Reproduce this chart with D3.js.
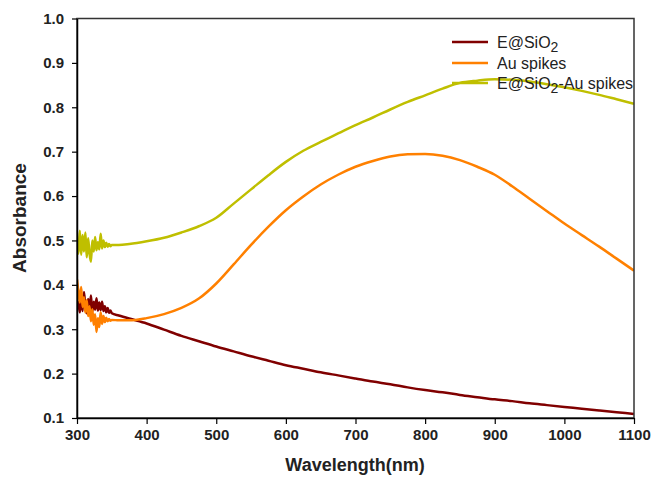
<!DOCTYPE html>
<html>
<head>
<meta charset="utf-8">
<script src="https://cdn.jsdelivr.net/npm/d3@7"></script>
<style>
  body { margin: 0; background: #fff; }
  text { font-family: "Liberation Sans", Arial, sans-serif; }
</style>
</head>
<body>
<script>
const WIDTH = 654;
const HEIGHT = 484;
const MARGIN = { top: 18.5, right: 20, bottom: 66, left: 77 };

// wavelength grid (nm): dense at the noisy start, coarser later
const wavelength = [300, 302, 304, 306, 308, 310, 312, 314, 316, 318, 320, 322, 324, 326, 328,
    330, 332, 334, 336, 338, 340, 342, 344, 346, 348, 350,
    360, 375, 400, 425, 450, 475, 500, 525, 550, 575, 600, 625, 650, 675, 700, 725, 750, 775,
    800, 825, 850, 875, 900, 925, 950, 975, 1000, 1025, 1050, 1075, 1100];

const eSiO2 = [0.345, 0.362, 0.338, 0.372, 0.341, 0.384, 0.350, 0.336, 0.368, 0.345, 0.376, 0.340, 0.362, 0.344, 0.370,
    0.342, 0.360, 0.343, 0.362, 0.341, 0.352, 0.338, 0.348, 0.337, 0.342, 0.336,
    0.331, 0.324, 0.313, 0.299, 0.285, 0.273, 0.261, 0.250, 0.239, 0.229, 0.219, 0.211, 0.203, 0.196, 0.189, 0.182, 0.176, 0.169,
    0.163, 0.158, 0.152, 0.147, 0.142, 0.138, 0.133, 0.129, 0.125, 0.121, 0.117, 0.113, 0.109];

const auSpikes = [0.412, 0.385, 0.360, 0.395, 0.350, 0.372, 0.338, 0.365, 0.330, 0.352, 0.318, 0.345, 0.310, 0.334, 0.294,
    0.325, 0.305, 0.338, 0.312, 0.330, 0.316, 0.326, 0.318, 0.323, 0.319, 0.321,
    0.320, 0.320, 0.325, 0.334, 0.348, 0.369, 0.403, 0.446, 0.490, 0.531, 0.568, 0.599, 0.626, 0.648, 0.666, 0.679, 0.689, 0.694,
    0.695, 0.691, 0.681, 0.666, 0.648, 0.622, 0.594, 0.566, 0.538, 0.512, 0.486, 0.459, 0.432];

const eSiO2Au = [0.500, 0.470, 0.522, 0.468, 0.512, 0.475, 0.518, 0.462, 0.505, 0.470, 0.452, 0.500, 0.475, 0.508, 0.478,
    0.496, 0.480, 0.515, 0.482, 0.500, 0.485, 0.495, 0.486, 0.492, 0.487, 0.490,
    0.490, 0.492, 0.498, 0.506, 0.518, 0.532, 0.551, 0.583, 0.615, 0.647, 0.677, 0.702, 0.722, 0.741, 0.760, 0.777, 0.795, 0.812,
    0.827, 0.842, 0.855, 0.860, 0.863, 0.862, 0.858, 0.852, 0.845, 0.837, 0.828, 0.818, 0.808];

const xTicks = [300, 400, 500, 600, 700, 800, 900, 1000, 1100];
const yTicks = [0.1, 0.2, 0.3, 0.4, 0.5, 0.6, 0.7, 0.8, 0.9, 1.0];

const series = [
    { name: "E@SiO", sub: "2", rest: "", values: eSiO2, color: "#800000" },
    { name: "Au spikes", sub: "", rest: "", values: auSpikes, color: "#ff8000" },
    { name: "E@SiO", sub: "2", rest: "-Au spikes", values: eSiO2Au, color: "#bfbf00" },
];

const svg = d3.select("body")
    .append("svg")
    .attr("width", WIDTH)
    .attr("height", HEIGHT)

const innerW = 634 - MARGIN.left;
const innerH = 418 - MARGIN.top;

const x = d3.scaleLinear().domain([300, 1100]).range([0, innerW]);
const y = d3.scaleLinear().domain([0.1, 1.0]).range([innerH, 0]);

const plot = svg.append("g")
    .attr("transform", `translate(${MARGIN.left} ${MARGIN.top})`);

plot.append("clipPath").attr("id", "clip")
    .append("rect").attr("width", innerW).attr("height", innerH);

const line = d3.line()
    .curve(d3.curveMonotoneX)
    .x((d) => x(d[0]))
    .y((d) => y(d[1]))

plot.append("g")
    .attr("clip-path", "url(#clip)")
    .selectAll("path")
    .data(series)
    .join("path")
    .attr("d", (s) => line(wavelength.map((w, i) => [w, s.values[i]])))
    .attr("fill", "none")
    .attr("stroke", (s) => s.color)
    .attr("stroke-width", 2.5)
    .attr("stroke-linejoin", "round")

// frame
plot.append("rect")
    .attr("width", innerW)
    .attr("height", innerH)
    .attr("fill", "none")
    .attr("stroke", "#333")
    .attr("stroke-width", 1.5)

const xAxis = plot.append("g")
    .attr("transform", `translate(0 ${innerH})`)
    .call(d3.axisBottom(x).tickValues(xTicks).tickSize(6).tickSizeOuter(0).tickPadding(5).tickFormat(d3.format("d")));

const yAxis = plot.append("g")
    .call(d3.axisLeft(y).tickValues(yTicks).tickSize(5).tickSizeOuter(0).tickPadding(8).tickFormat(d3.format(".1f")));

[xAxis, yAxis].forEach((a) => {
    a.select(".domain").attr("stroke", "#000").attr("stroke-width", 1.5);
    a.selectAll(".tick line").attr("stroke", "#000").attr("stroke-width", 1.2);
    a.selectAll(".tick text")
        .attr("fill", "#222")
        .attr("font-size", 15)
        .attr("font-weight", "bold")
        .attr("font-family", "'Liberation Sans', Arial, sans-serif");
});

// axis titles
svg.append("text")
    .attr("x", 355)
    .attr("y", 471)
    .attr("text-anchor", "middle")
    .attr("font-size", 18)
    .attr("font-weight", "bold")
    .attr("fill", "#222")
    .text("Wavelength(nm)")

svg.append("text")
    .attr("transform", "translate(26 218) rotate(-90)")
    .attr("text-anchor", "middle")
    .attr("font-size", 19)
    .attr("font-weight", "bold")
    .attr("fill", "#222")
    .text("Absorbance")

// legend
const legend = svg.append("g")
    .selectAll("g")
    .data(series)
    .join("g")
    .attr("transform", (d, i) => `translate(452 ${[42, 63, 83][i]})`)

legend.append("line")
    .attr("x1", 0).attr("x2", 36)
    .attr("stroke", (d) => d.color)
    .attr("stroke-width", 2.5)

const lt = legend.append("text")
    .attr("x", 45)
    .attr("y", 5.5)
    .attr("font-size", 16)
    .attr("fill", "#222")

lt.append("tspan").text((d) => d.name)
lt.append("tspan").attr("dy", 4).attr("font-size", 14).text((d) => d.sub)
lt.append("tspan").attr("dy", (d) => d.sub ? -4 : 0).text((d) => d.rest)
</script>
</body>
</html>
